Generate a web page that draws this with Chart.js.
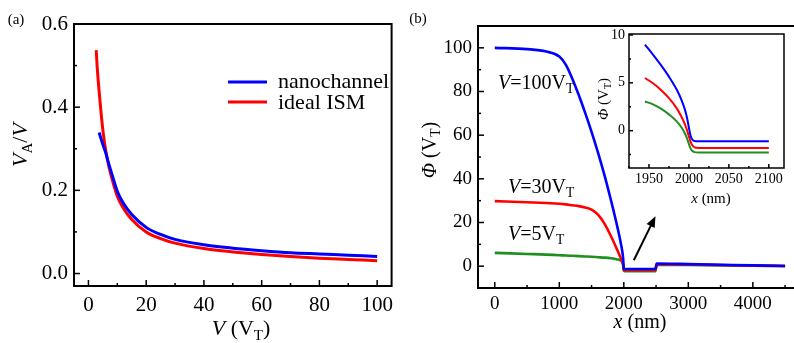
<!DOCTYPE html>
<html lang="en">
<head>
<meta charset="UTF-8" />
<title>Nanochannel potential</title>
<script src="https://cdn.jsdelivr.net/npm/chart.js"></script>
<style>
  body { margin: 0; width: 794px; height: 343px; overflow: hidden; background: #fff; position: relative; }
  canvas { position: absolute; }
  #chartA { left: 0; top: 0; }
  #chartB { left: 400px; top: 0; }
  #chartInset { left: 585px; top: 20px; }
</style>
</head>
<body>
<canvas id="chartA" width="400" height="343"></canvas>
<canvas id="chartB" width="402" height="343"></canvas>
<canvas id="chartInset" width="205" height="192"></canvas>
<script>
// ---- panel (a): V_A/V vs V ----
const vIsm = [2.7, 3, 4, 5, 6, 7, 8, 10, 12, 15, 20, 25, 30, 40, 50, 60, 70, 80, 90, 100];
const ismRatio = [0.537, 0.5, 0.415, 0.345, 0.295, 0.26, 0.232, 0.186, 0.158, 0.13, 0.1, 0.084, 0.073, 0.06, 0.052, 0.046, 0.041, 0.037, 0.034, 0.031];
const vNano = [3.7, 5, 6, 7, 8, 10, 12, 15, 20, 25, 30, 40, 50, 60, 70, 80, 90, 100];
const nanoRatio = [0.339, 0.31, 0.29, 0.265, 0.242, 0.198, 0.17, 0.142, 0.111, 0.094, 0.082, 0.069, 0.061, 0.055, 0.05, 0.047, 0.044, 0.041];
const xTicksA = [0, 20, 40, 60, 80, 100];
const yTicksA = [0, 0.2, 0.4, 0.6];

// ---- panel (b): potential profiles ----
const xMain = [0, 500, 800, 1000, 1100, 1200, 1300, 1400, 1500, 1600, 1700, 1800, 1900, 1950, 1990, 2000, 2010, 2490, 2510, 3000, 3500, 4000, 4500];
const phi100 = [100, 99.4, 98.3, 96, 92.3, 86, 78.5, 70.3, 61.5, 52, 41.7, 30.3, 18, 11, 3.5, -1.2, -1.3, -1.3, 1.2, 0.95, 0.65, 0.35, 0.1];
const phi30 = [29.8, 29.3, 28.9, 28.6, 28.3, 27.9, 27.5, 26.9, 25.9, 23.6, 19.5, 13.8, 7.3, 3.8, 0.5, -1.7, -1.9, -1.9, 0.9, 0.75, 0.5, 0.25, 0.05];
const phi5 = [6.1, 5.6, 5.3, 5.0, 4.9, 4.75, 4.6, 4.45, 4.3, 4.1, 3.9, 3.6, 3.1, 2.6, 0.5, -2.1, -2.3, -2.3, 0.7, 0.55, 0.35, 0.2, 0.05];
const xTicksB = [0, 1000, 2000, 3000, 4000];
const yTicksB = [0, 20, 40, 60, 80, 100];
const arrowFrom = [2155, 2.7];
const arrowTo = [2491, 22.9];

// ---- inset: zoom near x = 2000 nm ----
const xInset = [1945, 1955, 1965, 1975, 1985, 1991, 1995, 1998, 2000, 2002, 2004, 2007, 2012, 2100];
const inset100 = [9.0, 7.95, 6.85, 5.65, 4.25, 3.15, 2.2, 1.2, 0.3, -0.5, -0.9, -1.08, -1.1, -1.1];
const inset30 = [5.5, 4.95, 4.25, 3.4, 2.3, 1.4, 0.65, -0.05, -0.6, -1.15, -1.5, -1.74, -1.8, -1.8];
const inset5 = [3.05, 2.75, 2.3, 1.7, 0.95, 0.3, -0.3, -0.9, -1.4, -1.85, -2.1, -2.24, -2.28, -2.28];
const xTicksInset = [1950, 2000, 2050, 2100];
const yTicksInset = [0, 5, 10];

const BLUE = "#0000ff", RED = "#ff0000", GREEN = "#1f8f1f";
const SERIF = '"Liberation Serif", "DejaVu Serif", "Times New Roman", Times, serif';
Chart.defaults.color = "#000";
Chart.defaults.font.family = SERIF;

const pts = (xs, ys) => xs.map((x, i) => ({ x: x, y: ys[i] }));

// text with italic (i) and subscript (s) pieces
function drawRich(ctx, parts, x, y, size, align, rot) {
  const fontFor = (st) => (st.includes("i") ? "italic " : "") + (st.includes("s") ? size * 0.68 : size) + "px " + SERIF;
  let w = 0;
  parts.forEach(([t, st]) => { ctx.font = fontFor(st); w += ctx.measureText(t).width; });
  ctx.save();
  ctx.translate(x, y);
  if (rot) ctx.rotate(rot);
  ctx.fillStyle = "#000";
  ctx.textAlign = "left";
  ctx.textBaseline = "alphabetic";
  let cx = align === "left" ? 0 : -w / 2;
  parts.forEach(([t, st]) => {
    ctx.font = fontFor(st);
    ctx.fillText(t, cx, st.includes("s") ? size * 0.22 : 0);
    cx += ctx.measureText(t).width;
  });
  ctx.restore();
}

// frame, inward ticks and labels
function overlay(cfg) {
  return {
    id: "overlay",
    beforeDatasetsDraw(chart) {
      const { ctx, chartArea: a } = chart;
      if (cfg.fill) {
        ctx.save();
        ctx.fillStyle = cfg.fill;
        ctx.fillRect(a.left, a.top, a.right - a.left, a.bottom - a.top);
        ctx.restore();
      }
    },
    afterDatasetsDraw(chart) {
      const { ctx, chartArea: a, scales } = chart;
      const sx = scales.x, sy = scales.y;
      ctx.save();
      ctx.strokeStyle = "#000";
      ctx.lineWidth = 1.5;
      const seg = (x1, y1, x2, y2) => { ctx.beginPath(); ctx.moveTo(x1, y1); ctx.lineTo(x2, y2); ctx.stroke(); };
      const marks = (s) => {
        const vals = s.ticks.map((t) => t.value);
        const step = vals[1] - vals[0];
        const out = vals.map((v) => [v, cfg.major]);
        for (let v = vals[0] - step / 2; v <= s.max + 1e-9; v += step) if (v >= s.min - 1e-9) out.push([v, cfg.minor]);
        return out;
      };
      marks(sx).forEach(([v, len]) => { const p = sx.getPixelForValue(v); seg(p, a.bottom, p, a.bottom - len); });
      marks(sy).forEach(([v, len]) => { const p = sy.getPixelForValue(v); seg(a.left, p, a.left + len, p); });
      ctx.lineWidth = cfg.border;
      ctx.strokeRect(a.left, a.top, a.right - a.left, a.bottom - a.top);

      (cfg.legend || []).forEach((l) => {
        ctx.strokeStyle = l.color;
        ctx.lineWidth = 3;
        seg(l.x1, l.y, l.x2, l.y);
      });

      if (cfg.arrow) {
        const x1 = sx.getPixelForValue(cfg.arrow.from[0]), y1 = sy.getPixelForValue(cfg.arrow.from[1]);
        const x2 = sx.getPixelForValue(cfg.arrow.to[0]), y2 = sy.getPixelForValue(cfg.arrow.to[1]);
        const ang = Math.atan2(y2 - y1, x2 - x1);
        ctx.strokeStyle = "#000";
        ctx.fillStyle = "#000";
        ctx.lineWidth = 2;
        seg(x1, y1, x2 - 8 * Math.cos(ang), y2 - 8 * Math.sin(ang));
        ctx.beginPath();
        ctx.moveTo(x2, y2);
        ctx.lineTo(x2 - 11 * Math.cos(ang) + 4.5 * Math.sin(ang), y2 - 11 * Math.sin(ang) - 4.5 * Math.cos(ang));
        ctx.lineTo(x2 - 11 * Math.cos(ang) - 4.5 * Math.sin(ang), y2 - 11 * Math.sin(ang) + 4.5 * Math.cos(ang));
        ctx.closePath();
        ctx.fill();
      }
      ctx.restore();
    },
    afterDraw(chart) {
      (cfg.texts || []).forEach((t) => drawRich(chart.ctx, t.parts, t.x, t.y, t.size, t.align, t.rot));
    },
  };
}

function axis(min, max, tickVals, opt) {
  return {
    type: "linear",
    min: min,
    max: max,
    grid: { display: false, drawTicks: false },
    border: { display: false },
    afterBuildTicks: (s) => { s.ticks = tickVals.map((v) => ({ value: v })); },
    afterFit: (s) => { if (opt.width) s.width = opt.width; if (opt.height) s.height = opt.height; },
    ticks: {
      autoSkip: false,
      maxRotation: 0,
      padding: opt.pad,
      font: { family: SERIF, size: opt.size },
      callback: opt.fmt || ((v) => String(v)),
    },
  };
}

const line = (data, color, width) => ({
  data: data,
  borderColor: color,
  borderWidth: width,
  showLine: true,
  pointRadius: 0,
  cubicInterpolationMode: "monotone",
});

const baseOpts = (pad, scales) => ({
  responsive: false,
  animation: false,
  devicePixelRatio: 1,
  layout: { padding: pad },
  plugins: { legend: { display: false }, tooltip: { enabled: false } },
  scales: scales,
});

// panel (a)
new Chart(document.getElementById("chartA"), {
  type: "scatter",
  data: {
    datasets: [
      line(pts(vNano, nanoRatio), BLUE, 3),
      line(pts(vIsm, ismRatio), RED, 3),
    ],
  },
  options: baseOpts({ left: 0, top: 24, right: 2, bottom: 0 }, {
    x: axis(-5, 105, xTicksA, { height: 57, pad: 7, size: 21 }),
    y: axis(-0.03, 0.6, yTicksA, { width: 74, pad: 6, size: 21, fmt: (v) => v.toFixed(1) }),
  }),
  plugins: [overlay({
    major: 6, minor: 3, border: 2,
    legend: [{ x1: 228, x2: 267, y: 82, color: BLUE }, { x1: 228, x2: 267, y: 102, color: RED }],
    texts: [
      { parts: [["(a)", ""]], x: 16, y: 24, size: 15 },
      { parts: [["nanochannel", ""]], x: 278, y: 88, size: 22, align: "left" },
      { parts: [["ideal ISM", ""]], x: 278, y: 109, size: 22, align: "left" },
      { parts: [["V", "i"], [" (V", ""], ["T", "s"], [")", ""]], x: 241, y: 335, size: 22 },
      { parts: [["V", "i"], ["A", "s"], ["/", ""], ["V", "i"]], x: 27, y: 145, size: 22, rot: -Math.PI / 2 },
    ],
  })],
});

// panel (b)
new Chart(document.getElementById("chartB"), {
  type: "scatter",
  data: {
    datasets: [
      line(pts(xMain, phi100), BLUE, 2.6),
      line(pts(xMain, phi30), RED, 2.6),
      line(pts(xMain, phi5), GREEN, 2.6),
    ],
  },
  options: baseOpts({ left: 0, top: 26, right: 4, bottom: 0 }, {
    x: axis(-260, 4700, xTicksB, { height: 55, pad: 5, size: 19 }),
    y: axis(-10, 110, yTicksB, { width: 78, pad: 6, size: 19 }),
  }),
  plugins: [overlay({
    major: 6, minor: 3, border: 2,
    arrow: { from: arrowFrom, to: arrowTo },
    texts: [
      { parts: [["(b)", ""]], x: 18, y: 23, size: 15 },
      { parts: [["x", "i"], [" (nm)", ""]], x: 240, y: 328, size: 20 },
      { parts: [["\u03A6", "i"], [" (V", ""], ["T", "s"], [")", ""]], x: 36, y: 150, size: 20, rot: -Math.PI / 2 },
      { parts: [["V", "i"], ["=100V", ""], ["T", "s"]], x: 98, y: 89, size: 20, align: "left" },
      { parts: [["V", "i"], ["=30V", ""], ["T", "s"]], x: 108, y: 193, size: 20, align: "left" },
      { parts: [["V", "i"], ["=5V", ""], ["T", "s"]], x: 108, y: 240, size: 20, align: "left" },
    ],
  })],
});

// inset
new Chart(document.getElementById("chartInset"), {
  type: "scatter",
  data: {
    datasets: [
      line(pts(xInset, inset100), BLUE, 2),
      line(pts(xInset, inset30), RED, 2),
      line(pts(xInset, inset5), GREEN, 2),
    ],
  },
  options: baseOpts({ left: 0, top: 14, right: 6, bottom: 0 }, {
    x: axis(1925, 2119, xTicksInset, { height: 44, pad: 3, size: 14 }),
    y: axis(-3.9, 10.1, yTicksInset, { width: 44, pad: 4, size: 14 }),
  }),
  plugins: [overlay({
    major: 4, minor: 2, border: 1.5, fill: "#fff",
    texts: [
      { parts: [["x", "i"], [" (nm)", ""]], x: 126, y: 183, size: 15 },
      { parts: [["\u03A6", "i"], [" (V", ""], ["T", "s"], [")", ""]], x: 23, y: 79, size: 15, rot: -Math.PI / 2 },
    ],
  })],
});
</script>
</body>
</html>
